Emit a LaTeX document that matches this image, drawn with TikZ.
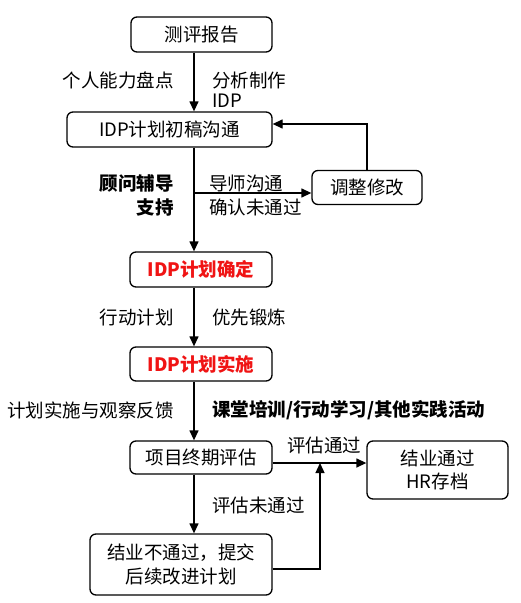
\documentclass[tikz,border=0pt]{standalone}
\usepackage{fontspec}
\setmainfont{Noto Sans CJK SC}
\usetikzlibrary{arrows.meta}
\definecolor{redtxt}{RGB}{240,20,20}
\begin{document}
\begin{tikzpicture}[x=1pt,y=-1pt,
  every node/.style={font=\fontsize{18.5}{20}\selectfont, inner sep=0pt},
  box/.style={draw, line width=1.3pt, rounded corners=6pt, align=center},
  arr/.style={line width=1.3pt, -{Triangle[length=10pt,width=9pt]}},
  lbl/.style={align=left},
  redlbl/.style={text=redtxt, font=\fontsize{18.5}{20}\selectfont\bfseries}]
\useasboundingbox (0,0) rectangle (520,603);
\fill[white] (0,0) rectangle (520,603);
\coordinate (mx) at (194,0);
\coordinate (jx) at (320,0);
% boxes
\node[box, minimum width=141pt, minimum height=35pt] (b1) at (201.5,34.5) {测评报告};
\node[box, minimum width=205pt, minimum height=35pt] (b2) at (169.5,129.5) {IDP计划初稿沟通};
\node[box, minimum width=110pt, minimum height=34pt] (b3) at (367,187.5) {调整修改};
\node[box, redlbl, minimum width=142pt, minimum height=35pt] (b4) at (201,269.5) {IDP计划确定};
\node[box, redlbl, minimum width=142pt, minimum height=34pt] (b5) at (201,364) {IDP计划实施};
\node[box, minimum width=142pt, minimum height=33pt] (b6) at (201,457.5) {项目终期评估};
\node[box, minimum width=141pt, minimum height=58pt, font=\fontsize{18.5}{23}\selectfont] (b7) at (437.5,470) {结业通过\\HR存档};
\node[box, minimum width=182pt, minimum height=61pt, font=\fontsize{18.5}{24}\selectfont] (b8) at (181,564.5) {结业不通过，提交\\后续改进计划};
% connectors
\draw[arr] (b1.south -| mx) -- (b2.north -| mx);
\draw[arr] (b2.south -| mx) -- (b4.north -| mx);
\coordinate (h3) at (194,193);
\draw[arr] (h3) -- (h3 -| b3.west);
\coordinate (e2) at ([yshift=5.5pt]b2.east);
\draw[arr] (b3.north) |- (e2);
\draw[arr] (b4.south -| mx) -- (b5.north -| mx);
\draw[arr] (b5.south -| mx) -- (b6.north -| mx);
\draw[arr] (b6.south -| mx) -- (b8.north -| mx);
\coordinate (e6) at ([yshift=-5.5pt]b6.east);
\draw[arr] (e6) -- (e6 -| b7.west);
\coordinate (e8) at ([yshift=-4.5pt]b8.east);
\draw[arr] (e8) -| (jx |- e6);
% labels
\node[anchor=east] (l1) at (174,80) {个人能力盘点};
\node[anchor=west, lbl, font=\fontsize{18.5}{20}\selectfont] (l2) at (212,90) {分析制作\\IDP};
\node[anchor=east, align=right, font=\fontsize{18.5}{24}\selectfont\bfseries] (l3) at (174,195) {顾问辅导\\支持};
\node[anchor=west, lbl, font=\fontsize{18.5}{24}\selectfont] (l4) at (209,195) {导师沟通\\确认未通过};
\node[anchor=east] (l5) at (174,317) {行动计划};
\node[anchor=west] (l6) at (212,317) {优先锻炼};
\node[anchor=east] (l7) at (174,410) {计划实施与观察反馈};
\node[anchor=west, font=\fontsize{18.5}{20}\selectfont\bfseries] (l8) at (212,410) {课堂培训/行动学习/其他实践活动};
\node (l9) at (324,445) {评估通过};
\node[anchor=west] (l10) at (212,505) {评估未通过};
\end{tikzpicture}
\end{document}
